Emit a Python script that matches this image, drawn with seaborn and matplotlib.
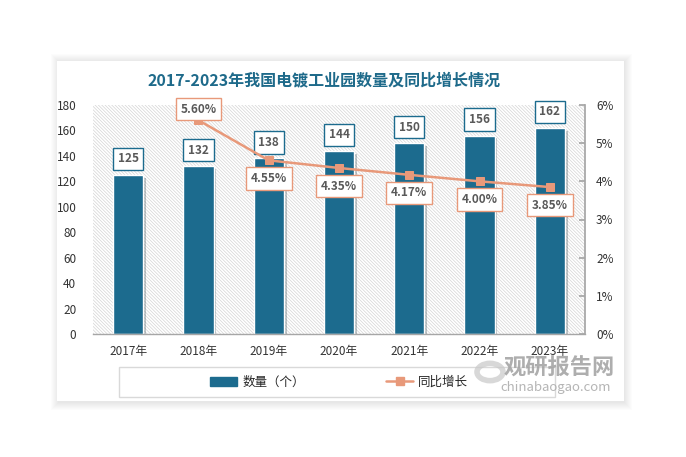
import numpy as np
import pandas as pd
import matplotlib
matplotlib.use("Agg")
import matplotlib.pyplot as plt
import seaborn as sns
from matplotlib.patches import Rectangle, Circle
from matplotlib.lines import Line2D
import matplotlib.patheffects as pe

# data
years = ["2017年", "2018年", "2019年", "2020年", "2021年", "2022年", "2023年"]
counts = [125, 132, 138, 144, 150, 156, 162]
growth = [np.nan, 5.60, 4.55, 4.35, 4.17, 4.00, 3.85]
growth_ticks = [0, 1, 2, 3, 4, 5, 6]

BAR = "#1c6b8e"
LINE = "#e8997a"
TXT = "#595959"

sns.set_theme(style="white")
plt.rcParams["font.family"] = ["Noto Sans CJK SC", "DejaVu Sans"]
plt.rcParams["hatch.linewidth"] = 0.5

W, H = 686, 457
fig = plt.figure(figsize=(W / 100, H / 100), dpi=100)
fig.patch.set_facecolor("white")


def fx(px):
    return px / W


def fy(py):
    return 1 - py / H


# white panel with a soft shadow
px0, py0, px1, py1 = 57, 61, 624, 401
for i in range(8, 0, -1):
    fig.patches.append(Rectangle((fx(px0 - i + 2), fy(py1 + i + 1)),
                                 fx(px1 - px0 + 2 * i - 2), (py1 - py0 + 2 * i) / H,
                                 transform=fig.transFigure, facecolor="black",
                                 edgecolor="none", alpha=0.012, zorder=-3))
fig.patches.append(Rectangle((fx(px0), fy(py1)), fx(px1 - px0), (py1 - py0) / H,
                             transform=fig.transFigure, facecolor="white",
                             edgecolor="none", zorder=-2))

df = pd.DataFrame({"year": years, "count": counts, "growth": growth})
df["pos"] = range(len(df))

ax = fig.add_axes([fx(93), fy(334), fx(585 - 93), (334 - 105) / H])
ax.set_facecolor("none")
ax.add_patch(Rectangle((0, 0), 1, 1, transform=ax.transAxes, facecolor="white",
                       edgecolor="#d4d4d4", hatch="\\" * 10, linewidth=0, zorder=0))

sns.barplot(data=df, x="year", y="count", color=BAR, width=0.43, saturation=1,
            edgecolor="white", linewidth=1, ax=ax, zorder=2)
for bar in ax.patches[1:]:
    bar.set_path_effects([pe.SimplePatchShadow(offset=(2, -2), alpha=0.25), pe.Normal()])

ax.set_xlim(-0.5, 6.5)
ax.set_ylim(0, 180)
ax.set_yticks(range(0, 181, 20))
ax.set_xlabel("")
ax.set_ylabel("")
ax.tick_params(axis="y", length=0, labelsize=8.5, labelcolor="#333333", pad=12)
ax.tick_params(axis="x", length=0, labelsize=8.5, labelcolor="#333333", pad=8)
for s in ["left", "top", "right"]:
    ax.spines[s].set_visible(False)
ax.spines["bottom"].set_color("#a6a6a6")
ax.spines["bottom"].set_linewidth(1)

for i, v in enumerate(counts):
    ax.annotate(str(v), (i, v), xytext=(0, 11.5), textcoords="offset points",
                ha="center", va="center", fontsize=8.5, fontweight="bold", color=TXT,
                bbox=dict(boxstyle="square,pad=0.4", fc="white", ec=BAR, lw=1),
                zorder=5)

ax2 = ax.twinx()
line_df = df.dropna()
sns.lineplot(data=line_df, x="pos", y="growth", color=LINE, linewidth=1.8,
             marker="s", markersize=6, markeredgecolor=LINE, ax=ax2, zorder=6)
ax2.set_ylim(0, 6)
ax2.set_yticks(growth_ticks)
ax2.set_yticklabels([f"{t}%" for t in growth_ticks])
ax2.set_xlabel("")
ax2.set_ylabel("")
ax2.tick_params(axis="y", direction="in", length=4, color="#a6a6a6",
                labelsize=8.5, labelcolor="#333333", pad=8)
for s in ["left", "top", "bottom"]:
    ax2.spines[s].set_visible(False)
ax2.spines["right"].set_color("#a6a6a6")
ax2.set_xlim(-0.5, 6.5)

for p, g in zip(line_df["pos"], line_df["growth"]):
    dy = 8 if p == 1 else -13
    ax2.annotate(f"{g:.2f}%", (p, g), xytext=(0, dy), textcoords="offset points",
                 ha="center", va="center", fontsize=8.5, fontweight="bold", color=TXT,
                 bbox=dict(boxstyle="square,pad=0.4", fc="white", ec=LINE, lw=1),
                 zorder=7)

fig.text(fx(324), fy(80), "2017-2023年我国电镀工业园数量及同比增长情况",
         ha="center", va="center", fontsize=11.5, fontweight="bold", color="#1e6a8a")

# legend box
fig.patches.append(Rectangle((fx(119), fy(397)), fx(555 - 119), (397 - 367) / H,
                             transform=fig.transFigure, facecolor="white",
                             edgecolor="#d9d9d9", linewidth=1, zorder=1))
handles = [Rectangle((0, 0), 1, 1, color=BAR),
           Line2D([], [], color=LINE, lw=1.8, marker="s", markersize=6)]
fig.legend(handles, ["数量（个）", "同比增长"], loc="center",
           bbox_to_anchor=(fx(339), fy(382)), ncol=2, frameon=False,
           fontsize=9, columnspacing=6.5, handlelength=2.2, handletextpad=0.4)

# watermark
fig.patches.append(Circle((fx(490), fy(372)), 13 / W, transform=fig.transFigure,
                          facecolor="none", edgecolor="#c8c8c8", linewidth=4,
                          alpha=0.7, zorder=8))
fig.text(fx(559), fy(368), "观研报告网", ha="center", va="center", fontsize=16,
         fontweight="bold", color="#a0a0a0", alpha=0.85, zorder=9)
fig.text(fx(556), fy(387), "chinabaogao.com", ha="center", va="center",
         fontsize=9.5, color="#a8a8a8", alpha=0.85, zorder=9)

fig.savefig("out.png", dpi=100)
